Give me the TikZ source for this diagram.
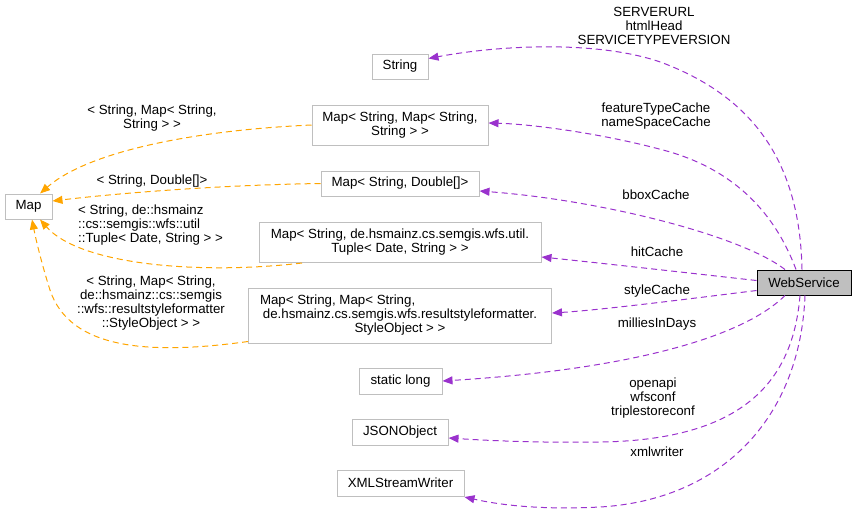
\documentclass[tikz,border=0pt]{standalone}
\usepackage{fontspec}
\setmainfont{Liberation Sans}
\usetikzlibrary{arrows.meta}
\definecolor{purp}{HTML}{9A32CD}
\definecolor{orng}{HTML}{FFA500}
\definecolor{boxgray}{HTML}{BFBFBF}
\begin{document}
\begin{tikzpicture}[x=1pt,y=-1pt,
  every node/.style={font=\fontsize{13.3}{14}\selectfont, inner sep=0pt},
  cbox/.style={draw=boxgray, line width=1pt, align=center},
  wsbox/.style={draw=black, fill=boxgray, line width=1pt},
  lbl/.style={align=center},
  pedge/.style={draw=purp, line width=1pt, dash pattern=on 6pt off 4pt, -{Triangle[length=10pt,width=8pt]}},
  oedge/.style={draw=orng, line width=1pt, dash pattern=on 6pt off 4pt, -{Triangle[length=10pt,width=8pt]}}]
\useasboundingbox (0,0) rectangle (856,512);
% nodes
\node[cbox, minimum width=56pt, minimum height=25pt] (str) at (400,66.5) {String};
\node[cbox, minimum width=176pt, minimum height=40pt] (mmss) at (400,125) {Map< String, Map< String,\\String > >};
\node[cbox, minimum width=158pt, minimum height=25pt] (msd) at (400,183.5) {Map< String, Double[]>};
\node[cbox, minimum width=282pt, minimum height=40pt] (tup) at (400,242.5) {Map< String, de.hsmainz.cs.semgis.wfs.util.\\Tuple< Date, String > >};
\node[cbox, minimum width=303pt, minimum height=55pt] (sty) at (400,315.5) {\makebox[280pt][l]{Map< String, Map< String,}\\de.hsmainz.cs.semgis.wfs.resultstyleformatter.\\StyleObject > >};
\node[cbox, minimum width=83pt, minimum height=26pt] (sl) at (400.5,381) {static long};
\node[cbox, minimum width=96pt, minimum height=26pt] (json) at (400,432) {JSONObject};
\node[cbox, minimum width=127pt, minimum height=26pt] (xml) at (400.5,483) {XMLStreamWriter};
\node[cbox, minimum width=47pt, minimum height=25pt] (map) at (28.5,206.5) {Map};
\node[wsbox, minimum width=94pt, minimum height=25pt] (ws) at (804,282.5) {WebService};
% purple edges
\draw[pedge] ([xshift=-2pt]ws.north) .. controls (800,170) and (760,100) .. (663,63) .. controls (600,40) and (500,45) .. ([yshift=8pt]str.east);
\draw[pedge] ([xshift=-8pt]ws.north) .. controls (770,200) and (720,165) .. (663,150) .. controls (600,133) and (530,124) .. ([yshift=2pt]mmss.east);
\draw[pedge] ([xshift=-19pt]ws.north) .. controls (740,235) and (600,200) .. ([yshift=-7.5pt]msd.east);
\draw[pedge] ([yshift=2pt]ws.west) .. controls (680,272) and (600,263) .. ([yshift=-14.5pt]tup.east);
\draw[pedge] ([yshift=-8pt]ws.west) .. controls (680,300) and (600,310) .. ([yshift=2.5pt]sty.east);
\draw[pedge] ([xshift=-19pt]ws.south) .. controls (740,340) and (620,370) .. (sl.east);
\draw[pedge] ([xshift=-4pt]ws.south) .. controls (793,380) and (745,440) .. (600,442) .. controls (530,443) and (480,440) .. ([yshift=-6pt]json.east);
\draw[pedge] ([xshift=1pt]ws.south) .. controls (800,420) and (720,500) .. (600,507) .. controls (540,510) and (500,505) .. ([yshift=-14pt]xml.east);
% orange edges
\draw[oedge] (mmss.west) .. controls (200,130) and (90,150) .. ([xshift=11.5pt]map.north);
\draw[oedge] (msd.west) .. controls (220,185) and (120,193) .. ([yshift=5.5pt]map.east);
\draw[oedge] ([xshift=-98pt]tup.south) .. controls (200,275) and (80,265) .. ([xshift=11.5pt]map.south);
\draw[oedge] ([yshift=-26pt]sty.west) .. controls (150,355) and (70,350) .. (50,290) .. controls (42,265) and (36,240) .. ([xshift=3.5pt]map.south);
% labels
\node[lbl] (lS) at (654,26) {SERVERURL\\htmlHead\\SERVICETYPEVERSION};
\node[lbl] (lF) at (656,116) {featureTypeCache\\nameSpaceCache};
\node[lbl] (lB) at (656,195) {bboxCache};
\node[lbl] (lH) at (657,252) {hitCache};
\node[lbl] (lSt) at (657,291) {styleCache};
\node[lbl] (lM) at (657,324) {milliesInDays};
\node[lbl] (lJ) at (653,398) {openapi\\wfsconf\\triplestoreconf};
\node[lbl] (lX) at (657,452) {xmlwriter};
\node[lbl] (oA) at (152,118) {< String, Map< String,\\String > >};
\node[lbl] (oB) at (152,181) {< String, Double[]>};
\node[align=left, anchor=west] (oC) at (78,225) {< String, de::hsmainz\\::cs::semgis::wfs::util\\::Tuple< Date, String > >};
\node[lbl] (oD) at (151,303) {< String, Map< String,\\de::hsmainz::cs::semgis\\::wfs::resultstyleformatter\\::StyleObject > >};
\end{tikzpicture}
\end{document}
